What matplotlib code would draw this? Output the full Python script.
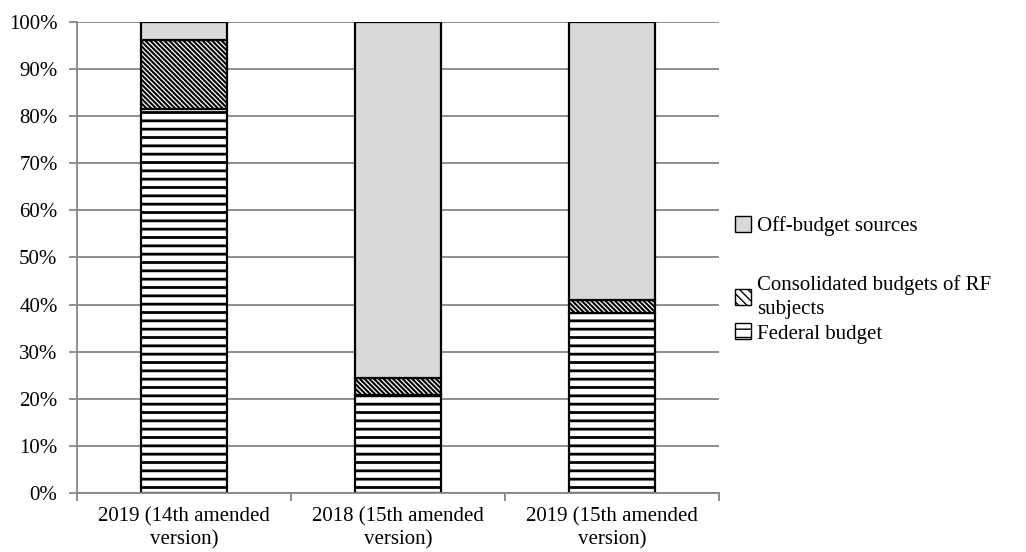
import numpy as np
import matplotlib.pyplot as plt
from matplotlib.patches import Patch

plt.rcParams['font.family'] = ['Liberation Serif', 'DejaVu Serif']
plt.rcParams['font.size'] = 15

# shares of financing sources, %
versions = ["2019 (14th amended\nversion)", "2018 (15th amended\nversion)", "2019 (15th amended\nversion)"]
federal = [81.5, 20.7, 38.2]
regional = [14.7, 3.8, 2.8]
off_budget = [3.8, 75.5, 59.0]

fig = plt.figure(figsize=(10.26, 5.52), dpi=100)
ax = fig.add_axes([0.075, 0.107, 0.6258, 0.8533])

x = np.arange(len(versions))
w = 0.40
diag = '\\' * 7

with plt.rc_context({'hatch.linewidth': 2.0}):
    b1 = ax.bar(x, federal, w, color='white', edgecolor='black', hatch='--', linewidth=1.6, zorder=3)
with plt.rc_context({'hatch.linewidth': 1.5}):
    b2 = ax.bar(x, regional, w, bottom=federal, color='white', edgecolor='black', hatch=diag, linewidth=1.6, zorder=3)
b3 = ax.bar(x, off_budget, w, bottom=np.array(federal) + np.array(regional),
            color='#d9d9d9', edgecolor='black', linewidth=1.6, zorder=3)

ax.set_xlim(-0.5, 2.5)
ax.set_ylim(0, 100)
ax.set_yticks(np.arange(0, 101, 10))
ax.set_yticklabels([f"{v}%" for v in range(0, 101, 10)])
ax.set_xticks(x)
ax.set_xticklabels(versions, linespacing=1.3)
ax.set_xticks([-0.5, 0.5, 1.5, 2.5], minor=True)
ax.tick_params(axis='x', which='major', length=0, pad=10)
ax.tick_params(axis='x', which='minor', length=6, color='#868686', width=1.3)
ax.tick_params(axis='y', length=6, color='#868686', width=1.3, pad=8)
ax.grid(axis='y', color='#868686', linewidth=1.3, zorder=0)
for s in ['top', 'right']:
    ax.spines[s].set_visible(False)
for s in ['left', 'bottom']:
    ax.spines[s].set_color('#868686')
    ax.spines[s].set_linewidth(1.3)
ax.spines['bottom'].set_zorder(4)

# legend split in two blocks
with plt.rc_context({'hatch.linewidth': 2.2}):
    h_off = Patch(facecolor='#d9d9d9', edgecolor='black', linewidth=1.0)
    h_reg = Patch(facecolor='white', edgecolor='black', hatch='\\' * 4, linewidth=1.0)
with plt.rc_context({'hatch.linewidth': 1.5}):
    h_fed = Patch(facecolor='white', edgecolor='black', hatch='--', linewidth=1.0)

leg1 = fig.legend([h_off], ["Off-budget sources"], loc='center left',
                  bbox_to_anchor=(0.706, 0.590), frameon=False,
                  handlelength=0.8, handleheight=0.8, handletextpad=0.25, borderpad=0)
leg2 = fig.legend([h_reg, h_fed], ["Consolidated budgets of RF\nsubjects", "Federal budget"],
                  loc='upper left', bbox_to_anchor=(0.706, 0.520), frameon=False,
                  handlelength=0.8, handleheight=0.8, handletextpad=0.25, borderpad=0,
                  labelspacing=0.2)
for t in leg2.get_texts():
    t.set_linespacing(1.35)

fig.savefig("out.png", dpi=100)
